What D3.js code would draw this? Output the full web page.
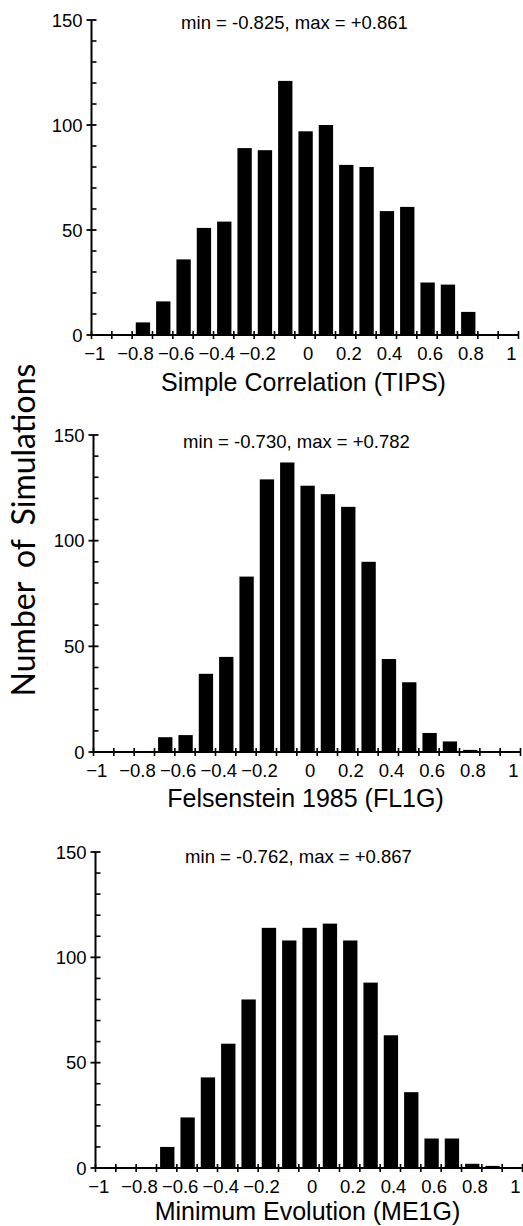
<!DOCTYPE html>
<html>
<head>
<meta charset="utf-8">
<script src="https://cdn.jsdelivr.net/npm/d3@7"></script>
<style>
  html, body { margin: 0; padding: 0; background: #fff; }
  svg { display: block; }
  text { fill: #000; }
</style>
</head>
<body>
<div id="chart"></div>
<script>
// 直方图数据：每个区间的下界（宽 0.1），以及三种方法的模拟次数
var binLower = [-0.9, -0.8, -0.7, -0.6, -0.5, -0.4, -0.3, -0.2, -0.1, 0, 0.1, 0.2, 0.3, 0.4, 0.5, 0.6, 0.7, 0.8];
var tipsCounts = [6, 16, 36, 51, 54, 89, 88, 121, 97, 100, 81, 80, 59, 61, 25, 24, 11, 0];
var fl1gCounts = [0, 7, 8, 37, 45, 83, 129, 137, 126, 122, 116, 90, 44, 33, 9, 5, 1, 0];
var me1gCounts = [0, 10, 24, 43, 59, 80, 114, 108, 114, 116, 108, 88, 63, 36, 14, 14, 2, 1];

var panelTitles = ['Simple Correlation (TIPS)', 'Felsenstein 1985 (FL1G)', 'Minimum Evolution (ME1G)'];
var panelNotes = ['min = -0.825, max = +0.861', 'min = -0.730, max = +0.782', 'min = -0.762, max = +0.867'];

var xTickLabels = [-1, -0.8, -0.6, -0.4, -0.2, 0, 0.2, 0.4, 0.6, 0.8, 1];
var yMajorTicks = [0, 50, 100, 150];
var yTitle = 'Number of Simulations';

var width = 523, height = 1226;
var svg = d3.select('#chart').append('svg')
    .attr('width', width)
    .attr('height', height);

var sans = "'Liberation Sans', Arial, Helvetica, sans-serif";

// 每个面板在页面上的位置（扫描图略有倾斜，所以左边距不完全相同）
var layout = [
    {left: 91.5, y0: 335, y150: 20, noteDy: 8.5, titleDy: 56},
    {left: 93.5, y0: 752, y150: 435, noteDy: 13, titleDy: 55},
    {left: 95.5, y0: 1168, y150: 852, noteDy: 11, titleDy: 52}
];
var series = [tipsCounts, fl1gCounts, me1gCounts];

var drawPanel = function (i) {
    var L = layout[i];
    var counts = series[i];
    var x = d3.scaleLinear().domain([-1.1, 1.0]).range([L.left, L.left + 427]);
    var y = d3.scaleLinear().domain([0, 150]).range([L.y0, L.y150]);
    var g = svg.append('g');

    // 柱子
    g.selectAll('rect.bar')
        .data(binLower.map(function (d, k) { return {lo: d, n: counts[k]}; }))
        .enter()
        .append('rect')
        .attr('class', 'bar')
        .attr('x', function (d) { return x(d.lo) + 3.6; })
        .attr('width', function (d) { return x(d.lo + 0.1) - x(d.lo) - 6; })
        .attr('y', function (d) { return y(d.n); })
        .attr('height', function (d) { return y(0) - y(d.n); })
        .attr('fill', '#000');

    // x 轴：线 + 每 0.1 一个贯穿刻度
    var xTicks = d3.range(-11, 11).map(function (k) { return k / 10; });
    g.append('line')
        .attr('x1', x(-1.1)).attr('x2', x(1.0))
        .attr('y1', y(0)).attr('y2', y(0))
        .attr('stroke', '#000').attr('stroke-width', 2);
    g.selectAll('line.xt')
        .data(xTicks)
        .enter()
        .append('line')
        .attr('class', 'xt')
        .attr('x1', function (d) { return x(d); })
        .attr('x2', function (d) { return x(d); })
        .attr('y1', y(0) - 4).attr('y2', y(0) + 4)
        .attr('stroke', '#000').attr('stroke-width', 1.6);
    g.selectAll('text.xl')
        .data(xTickLabels)
        .enter()
        .append('text')
        .attr('class', 'xl')
        .attr('x', function (d) { return x(d) + (d < 0 ? -17 : -7); })
        .attr('y', y(0) + 25)
        .attr('text-anchor', 'middle')
        .style('font-family', sans)
        .style('font-size', '18.5px')
        .text(function (d) { return d3.format('')(d); });

    // y 轴：主刻度穿过轴线，次刻度（每 10）在内侧
    g.append('line')
        .attr('x1', x(-1.1)).attr('x2', x(-1.1))
        .attr('y1', y(0)).attr('y2', y(150))
        .attr('stroke', '#000').attr('stroke-width', 2);
    g.selectAll('line.ym')
        .data(d3.range(0, 151, 10).filter(function (d) { return d % 50 !== 0; }))
        .enter()
        .append('line')
        .attr('class', 'ym')
        .attr('x1', x(-1.1)).attr('x2', x(-1.1) + 5)
        .attr('y1', function (d) { return y(d); })
        .attr('y2', function (d) { return y(d); })
        .attr('stroke', '#000').attr('stroke-width', 1.6);
    g.selectAll('line.yt')
        .data(yMajorTicks)
        .enter()
        .append('line')
        .attr('class', 'yt')
        .attr('x1', x(-1.1) - 5).attr('x2', x(-1.1) + 5)
        .attr('y1', function (d) { return y(d); })
        .attr('y2', function (d) { return y(d); })
        .attr('stroke', '#000').attr('stroke-width', 1.8);
    g.selectAll('text.yl')
        .data(yMajorTicks)
        .enter()
        .append('text')
        .attr('class', 'yl')
        .attr('x', x(-1.1) - 9)
        .attr('y', function (d) { return y(d) + 6.5; })
        .attr('text-anchor', 'end')
        .style('font-family', sans)
        .style('font-size', '18.5px')
        .text(function (d) { return d; });

    // 区间说明与横轴标题
    g.append('text')
        .attr('x', L.left + 203)
        .attr('y', L.y150 + L.noteDy)
        .attr('text-anchor', 'middle')
        .style('font-family', sans)
        .style('font-size', '18.5px')
        .text(panelNotes[i]);
    g.append('text')
        .attr('x', L.left + 212)
        .attr('y', L.y0 + L.titleDy)
        .attr('text-anchor', 'middle')
        .style('font-family', sans)
        .style('font-size', '25px')
        .text(panelTitles[i]);
};

[0, 1, 2].forEach(drawPanel);

// 纵轴总标题
svg.append('text')
    .attr('transform', 'translate(35,530) rotate(-90)')
    .attr('text-anchor', 'middle')
    .style('font-family', "Lato, 'DejaVu Sans', sans-serif")
    .style('font-weight', 400)
    .style('font-size', '32px')
    .style('word-spacing', '6px')
    .text(yTitle);
</script>
</body>
</html>
